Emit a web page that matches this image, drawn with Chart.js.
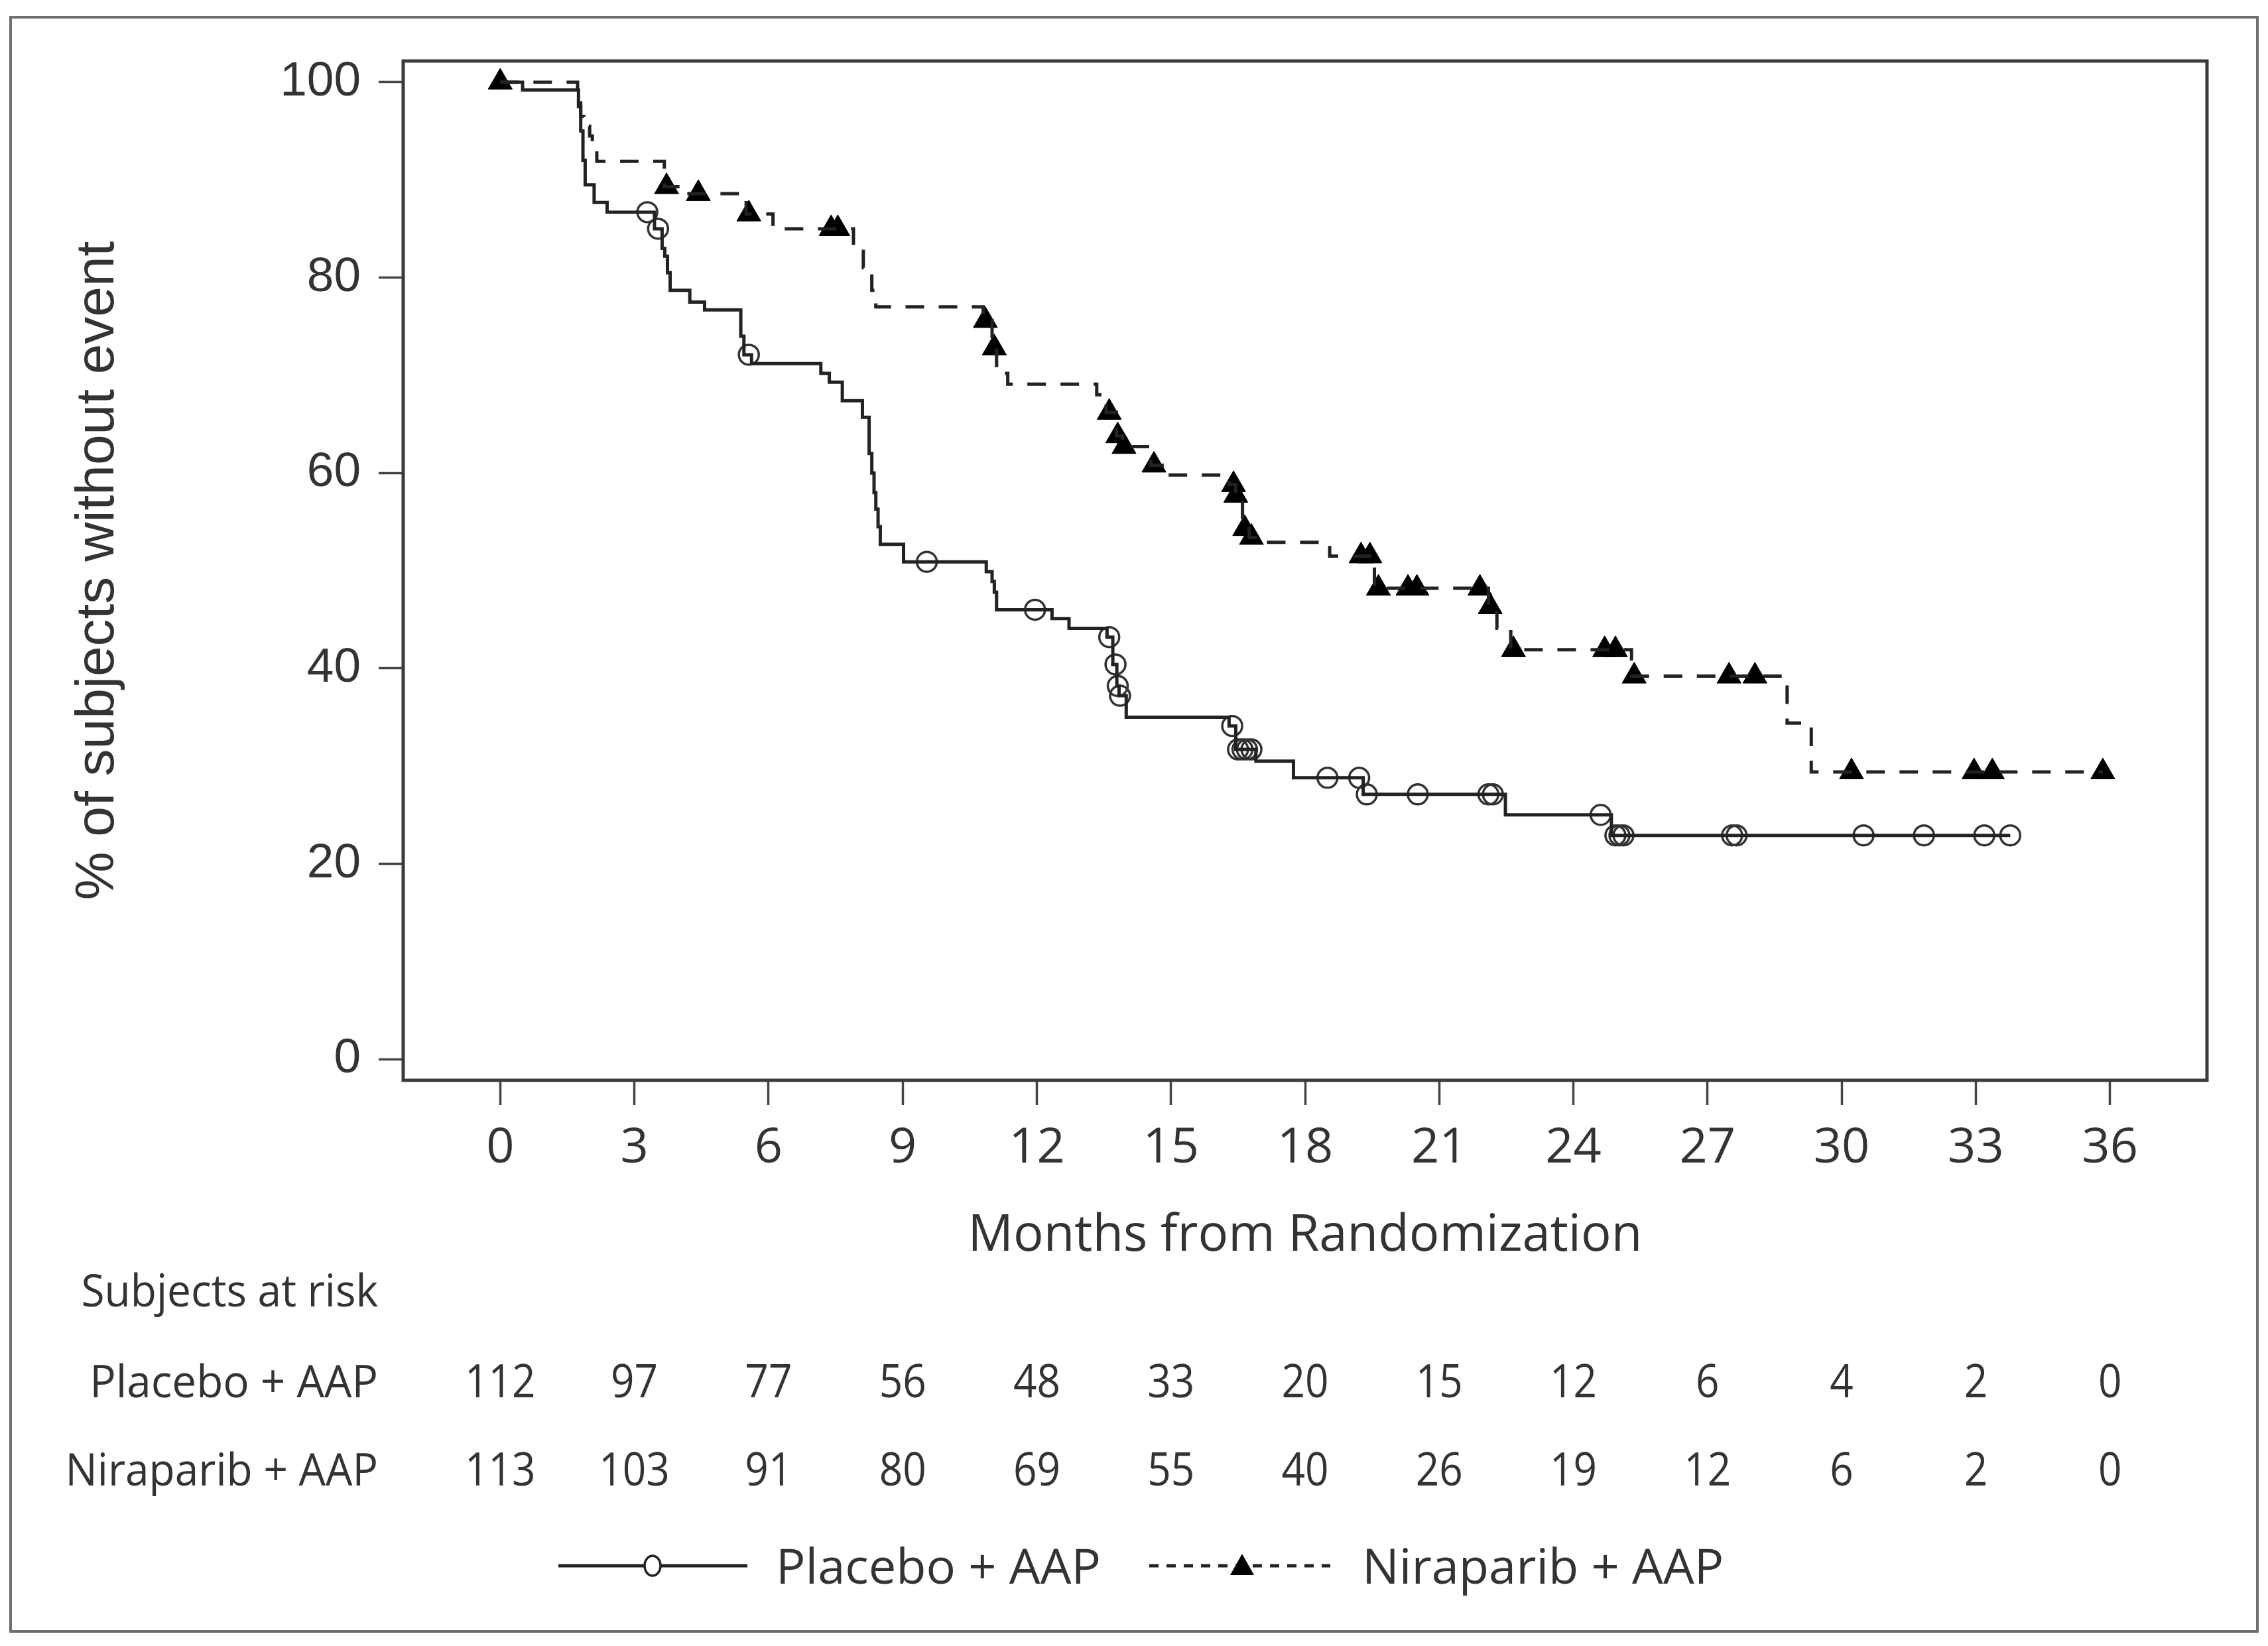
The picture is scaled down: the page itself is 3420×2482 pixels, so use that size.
<!DOCTYPE html>
<html>
<head>
<meta charset="utf-8">
<script src="https://cdn.jsdelivr.net/npm/chart.js@4.4.1/dist/chart.umd.min.js"></script>
<style>
  html, body { margin: 0; padding: 0; background: #fff; }
  #wrap { width: 3420px; height: 2482px; }
</style>
</head>
<body>
<div id="wrap"><canvas id="km" width="3420" height="2482"></canvas></div>
<script>
// x ticks (months) and y ticks (%)
const xTicks = [0, 3, 6, 9, 12, 15, 18, 21, 24, 27, 30, 33, 36];
const yTicks = [0, 20, 40, 60, 80, 100];

// Placebo + AAP: KM steps (time, % after the step)
const placeboTime = [0, 0.5, 1.75, 1.8, 1.85, 1.9, 2.1, 2.39, 3.45, 3.62, 3.68, 3.74, 3.8, 4.24, 4.57, 5.38, 5.45, 5.62,
  7.17, 7.36, 7.65, 8.1, 8.25, 8.31, 8.36, 8.4, 8.45, 8.5, 9.02, 10.87, 11.0, 11.05, 11.1, 12.34, 12.72,
  13.57, 13.7, 13.79, 13.84, 14.0, 16.3, 16.45, 16.9, 17.74, 19.3, 22.48, 24.85, 33.77];
const placeboSurv = [100, 99.2, 97.5, 95.0, 92.0, 89.5, 87.7, 86.7, 85.0, 83.0, 82.2, 80.5, 78.7, 77.5, 76.7, 74.0, 72.1, 71.2,
  70.2, 69.3, 67.4, 65.7, 62.0, 60.0, 58.0, 56.3, 54.5, 52.7, 50.9, 49.9, 48.9, 47.8, 46.0, 45.1, 44.1,
  43.2, 40.4, 38.2, 37.2, 35.0, 34.1, 31.7, 30.5, 28.8, 27.1, 25.0, 22.9, 22.9];
// Placebo censored
const placeboCensTime = [3.29, 3.53, 5.56, 9.54, 11.96, 13.62, 13.76, 13.81, 13.86, 16.37, 16.5, 16.6, 16.7, 16.8,
  18.5, 19.21, 19.38, 20.52, 22.1, 22.2, 24.61, 24.94, 25.03, 25.12, 27.55, 27.65, 30.49, 31.84, 33.19, 33.77];
const placeboCensSurv = [86.7, 85.0, 72.1, 50.9, 46.0, 43.2, 40.4, 38.2, 37.2, 34.1, 31.7, 31.7, 31.7, 31.7,
  28.8, 28.8, 27.1, 27.1, 27.1, 27.1, 25.0, 22.9, 22.9, 22.9, 22.9, 22.9, 22.9, 22.9, 22.9, 22.9];

// Niraparib + AAP: KM steps
const niraTime = [0, 1.73, 1.8, 1.87, 2.0, 2.06, 2.16, 3.67, 4.1, 5.5, 6.1, 7.9, 8.12, 8.31, 8.4, 10.8, 11.0, 11.1, 11.35,
  13.34, 13.55, 13.78, 13.92, 14.55, 14.9, 16.3, 16.45, 16.6, 16.75, 17.0, 18.55, 19.55, 22.1, 22.29, 22.6,
  25.3, 28.78, 29.32, 35.84];
const niraSurv = [100, 98.1, 96.5, 95.5, 94.5, 93.6, 91.9, 89.3, 88.6, 86.5, 85.0, 82.9, 81.0, 78.7, 77.0, 75.6, 72.8, 70.2, 69.1,
  68.0, 66.2, 63.8, 62.7, 60.8, 59.8, 58.8, 57.7, 54.3, 53.4, 52.9, 51.5, 48.2, 46.3, 44.1, 41.9,
  39.2, 34.4, 29.4, 29.4];
// Niraparib censored
const niraCensTime = [0, 3.72, 4.43, 5.56, 7.4, 7.55, 10.85, 11.05, 13.62, 13.81, 13.95, 14.62, 16.4, 16.45, 16.65, 16.8,
  19.25, 19.45, 19.64, 20.3, 20.5, 21.91, 22.14, 22.66, 24.7, 24.94, 25.36, 27.48, 28.06, 30.22, 32.96, 33.37, 35.84];
const niraCensSurv = [100, 89.3, 88.6, 86.5, 85.0, 85.0, 75.6, 72.8, 66.2, 63.8, 62.7, 60.8, 58.8, 57.7, 54.3, 53.4,
  51.5, 51.5, 48.2, 48.2, 48.2, 48.2, 46.3, 41.9, 41.9, 41.9, 39.2, 39.2, 39.2, 29.4, 29.4, 29.4, 29.4];

// subjects at risk
const riskLabels = ["Placebo + AAP", "Niraparib + AAP"];
const riskPlacebo = [112, 97, 77, 56, 48, 33, 20, 15, 12, 6, 4, 2, 0];
const riskNira = [113, 103, 91, 80, 69, 55, 40, 26, 19, 12, 6, 2, 0];

const INK = "#222222";
const TXT = "#333333";
const bottomFont = "'Open Sans', sans-serif";

const toXY = (xs, ys) => xs.map((x, i) => ({ x: x, y: ys[i] }));

// narrow text: squeeze horizontally around the anchor
function narrowText(ctx, str, x, y, sx) {
  ctx.save();
  ctx.translate(x, y);
  ctx.scale(sx, 1);
  ctx.fillText(str, 0, 0);
  ctx.restore();
}

// frame, plot box, risk table and legend
const extras = {
  id: "extras",
  afterDraw(chart) {
    const { ctx, chartArea: a } = chart;
    const xs = chart.scales.x;
    ctx.save();

    // outer frame
    ctx.strokeStyle = "#6e6e6e";
    ctx.lineWidth = 4;
    ctx.strokeRect(16, 26, 3388, 2434);

    // plot box
    ctx.strokeStyle = "#3a3a3a";
    ctx.lineWidth = 5;
    ctx.strokeRect(a.left, a.top, a.right - a.left, a.bottom - a.top);

    // risk table
    ctx.fillStyle = TXT;
    ctx.font = "67px " + bottomFont;
    ctx.textBaseline = "alphabetic";
    ctx.textAlign = "right";
    narrowText(ctx, "Subjects at risk", 570, 1970, 0.955);
    narrowText(ctx, riskLabels[0], 570, 2107, 0.98);
    narrowText(ctx, riskLabels[1], 570, 2240, 0.955);
    ctx.font = "69px " + bottomFont;
    ctx.textAlign = "center";
    xTicks.forEach((t, i) => {
      const px = xs.getPixelForValue(t);
      narrowText(ctx, String(riskPlacebo[i]), px, 2107, 0.9);
      narrowText(ctx, String(riskNira[i]), px, 2240, 0.9);
    });

    // legend
    const ly = 2361;
    ctx.strokeStyle = INK;
    ctx.lineWidth = 5;
    ctx.beginPath(); ctx.moveTo(842, ly); ctx.lineTo(1127, ly); ctx.stroke();
    ctx.lineWidth = 3.5;
    ctx.beginPath(); ctx.ellipse(984, ly, 12, 15, 0, 0, Math.PI * 2);
    ctx.fillStyle = "#fff"; ctx.fill(); ctx.stroke();

    ctx.lineWidth = 5;
    ctx.setLineDash([14, 12]);
    ctx.beginPath(); ctx.moveTo(1733, ly); ctx.lineTo(2006, ly); ctx.stroke();
    ctx.setLineDash([]);
    ctx.fillStyle = "#000";
    ctx.beginPath();
    ctx.moveTo(1873, ly - 18); ctx.lineTo(1891, ly + 14); ctx.lineTo(1855, ly + 14); ctx.closePath();
    ctx.fill();

    ctx.fillStyle = TXT;
    ctx.font = "74px " + bottomFont;
    ctx.textAlign = "left";
    ctx.fillText("Placebo + AAP", 1170, 2388);
    ctx.fillText("Niraparib + AAP", 2054, 2388);
    ctx.restore();
  }
};

new Chart(document.getElementById("km"), {
  type: "line",
  data: {
    datasets: [
      {
        label: "Placebo + AAP",
        data: toXY(placeboTime, placeboSurv),
        stepped: "before",
        borderColor: INK,
        borderWidth: 5,
        pointRadius: 0,
        fill: false
      },
      {
        label: "Niraparib + AAP",
        data: toXY(niraTime, niraSurv),
        stepped: "before",
        borderColor: INK,
        borderWidth: 5,
        borderDash: [28, 22],
        pointRadius: 0,
        fill: false
      },
      {
        label: "Placebo censored",
        data: toXY(placeboCensTime, placeboCensSurv),
        showLine: false,
        pointStyle: "circle",
        pointRadius: 15,
        pointBorderWidth: 3.5,
        pointBorderColor: "#333",
        pointBackgroundColor: "rgba(255,255,255,0)"
      },
      {
        label: "Niraparib censored",
        data: toXY(niraCensTime, niraCensSurv),
        showLine: false,
        pointStyle: "triangle",
        pointRadius: 21,
        pointBorderWidth: 1,
        pointBorderColor: "#000",
        pointBackgroundColor: "#000"
      }
    ]
  },
  options: {
    responsive: false,
    devicePixelRatio: 1,
    animation: false,
    layout: { padding: { top: 92, right: 92, left: 0, bottom: 0 } },
    plugins: { legend: { display: false }, tooltip: { enabled: false } },
    scales: {
      x: {
        type: "linear",
        min: -2.17,
        max: 38.17,
        afterBuildTicks: s => { s.ticks = xTicks.map(v => ({ value: v })); },
        afterFit: s => { s.height = 853; },
        border: { display: false },
        grid: { drawOnChartArea: false, drawTicks: true, tickLength: 37, tickWidth: 3.5, tickColor: "#444" },
        ticks: { padding: 22, color: TXT, font: { family: "Open Sans", size: 74 }, maxRotation: 0, autoSkip: false },
        title: {
          display: true,
          text: "Months from Randomization",
          color: TXT,
          font: { family: "Open Sans", size: 76, lineHeight: 1.2 },
          padding: { top: 0, bottom: 572 }
        }
      },
      y: {
        type: "linear",
        min: -2.17,
        max: 102.17,
        afterBuildTicks: s => { s.ticks = yTicks.map(v => ({ value: v })); },
        afterFit: s => { s.width = 608; },
        border: { display: false },
        grid: { drawOnChartArea: false, drawTicks: true, tickLength: 37, tickWidth: 3.5, tickColor: "#444" },
        ticks: { padding: 27, color: TXT, font: { family: "Liberation Sans", size: 73 } },
        title: {
          display: true,
          text: "% of subjects without event",
          color: TXT,
          font: { family: "Liberation Sans", size: 82, lineHeight: 1.2 },
          padding: { top: 99, bottom: 0 }
        }
      }
    }
  },
  plugins: [extras]
});
</script>
</body>
</html>
